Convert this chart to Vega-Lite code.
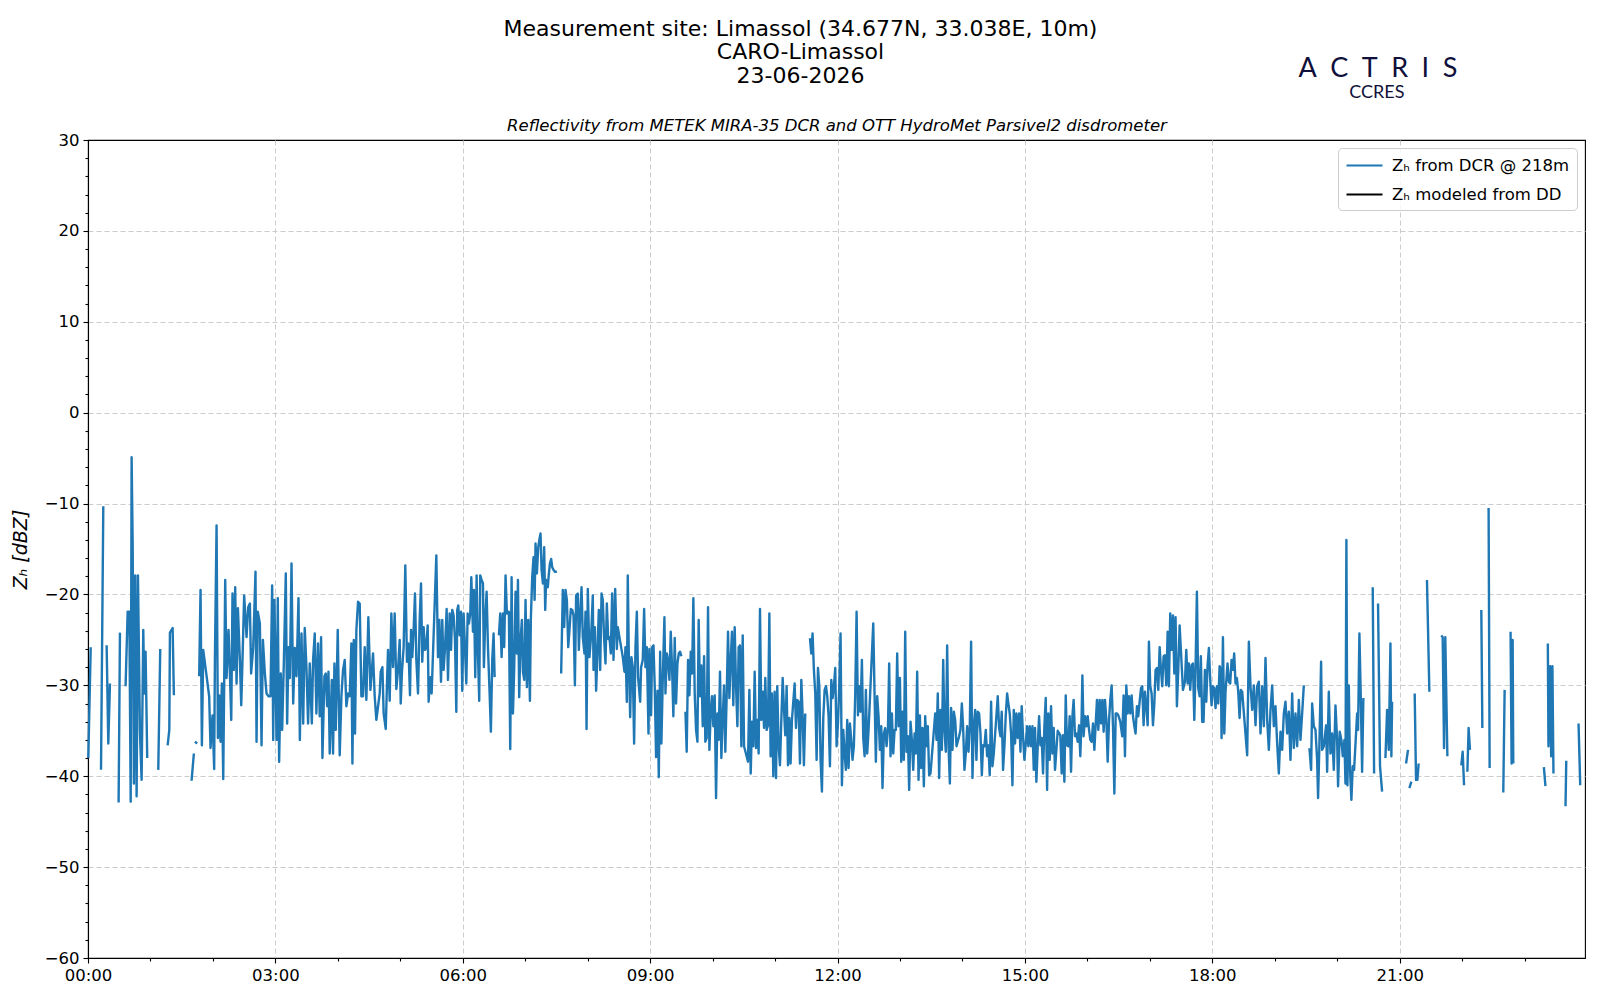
{
  "$schema": "https://vega.github.io/schema/vega-lite/v6.json",
  "description": "Radar reflectivity time series at Limassol, 23-06-2026",
  "autosize": {"type": "none"},
  "padding": {"left": 88, "top": 140, "right": 15, "bottom": 42},
  "width": 1497,
  "height": 818,
  "background": "white",
  "config": {
    "font": "DejaVu Sans",
    "view": {"stroke": "black", "strokeWidth": 1.1}
  },
  "title": {
    "text": ["Measurement site: Limassol (34.677N, 33.038E, 10m)", "CARO-Limassol", "23-06-2026"],
    "frame": "group",
    "anchor": "middle",
    "dx": -36,
    "font": "DejaVu Sans",
    "fontSize": 22,
    "fontWeight": "normal",
    "color": "black",
    "lineHeight": 23.5,
    "offset": -33
  },
  "data": {"values": [
    {"m":0.3,"z":-38.0},{"m":2.6,"z":-25.8},{"m":6,"z":null},
    {"m":12.5,"z":-39.3},{"m":14.7,"z":-10.3},{"m":16.3,"z":null},
    {"m":17.9,"z":-25.6},{"m":19.5,"z":-36.4},{"m":21.1,"z":-29.8},{"m":25,"z":null},
    {"m":29.4,"z":-42.9},{"m":30.7,"z":-24.2},{"m":33,"z":null},
    {"m":36.1,"z":-30.1},{"m":38.1,"z":-21.9},{"m":39.7,"z":-21.9},{"m":41,"z":-42.8},{"m":41.9,"z":-4.9},{"m":42.9,"z":-14.4},{"m":44.1,"z":-40.8},{"m":45.4,"z":-17.9},{"m":46.7,"z":-42.2},{"m":48,"z":-17.9},{"m":49.9,"z":-35.2},{"m":51.5,"z":-40.4},{"m":53.1,"z":-23.9},{"m":54.1,"z":-30.9},{"m":55.3,"z":-26.3},{"m":56.9,"z":-38.0},{"m":62,"z":null},
    {"m":67.5,"z":-39.3},{"m":69.4,"z":-26.0},{"m":73,"z":null},
    {"m":76.5,"z":-36.6},{"m":78.1,"z":-34.9},{"m":78.7,"z":-24.2},{"m":81.3,"z":-23.7},{"m":82.5,"z":-31.1},{"m":90,"z":null},
    {"m":99.5,"z":-40.5},{"m":101.7,"z":-37.5},{"m":102.2,"z":null},
    {"m":102.7,"z":-36.2},{"m":104.9,"z":-36.4},{"m":105.8,"z":null},
    {"m":106.8,"z":-29.0},{"m":108.1,"z":-19.5},{"m":109.4,"z":-36.6},{"m":110.7,"z":-26.1},{"m":116.4,"z":-31.2},{"m":117.7,"z":-36.9},{"m":119.6,"z":-33.3},{"m":121.2,"z":-39.2},{"m":121.9,"z":-27.2},{"m":123.5,"z":-12.4},{"m":124.8,"z":-35.8},{"m":126.0,"z":-31.1},{"m":127.3,"z":-36.2},{"m":128.6,"z":-29.8},{"m":129.9,"z":-40.3},{"m":131.8,"z":-18.4},{"m":133.1,"z":-29.2},{"m":135.0,"z":-23.9},{"m":136.3,"z":-28.7},{"m":137.6,"z":-33.8},{"m":138.8,"z":-19.9},{"m":140.1,"z":-28.3},{"m":141.4,"z":-19.2},{"m":142.7,"z":-29.8},{"m":144.0,"z":-21.5},{"m":145.9,"z":-27.2},{"m":147.2,"z":-32.2},{"m":148.4,"z":-27.2},{"m":150.0,"z":-20.1},{"m":152.3,"z":-24.7},{"m":153.9,"z":-21.4},{"m":155.5,"z":-21.0},{"m":156.7,"z":-28.7},{"m":158.7,"z":-25.8},{"m":160.9,"z":-17.5},{"m":161.9,"z":-36.2},{"m":163.1,"z":-21.9},{"m":165.1,"z":-23.2},{"m":166.7,"z":-36.6},{"m":168.0,"z":-25.0},{"m":169.9,"z":-28.7},{"m":171.5,"z":-30.9},{"m":173.4,"z":-31.2},{"m":175.3,"z":-31.2},{"m":176.9,"z":-19.0},{"m":177.9,"z":-36.0},{"m":179.1,"z":-20.6},{"m":181.1,"z":-36.0},{"m":182.3,"z":-20.4},{"m":183.6,"z":-38.4},{"m":185.2,"z":-28.7},{"m":186.5,"z":-34.9},{"m":188.1,"z":-27.6},{"m":190.0,"z":-17.7},{"m":191.3,"z":-34.2},{"m":192.6,"z":-25.8},{"m":193.9,"z":-29.2},{"m":195.5,"z":-16.6},{"m":197.1,"z":-32.0},{"m":198.7,"z":-25.9},{"m":200.3,"z":-29.0},{"m":202.2,"z":-20.4},{"m":203.5,"z":-36.0},{"m":205.1,"z":-24.3},{"m":206.7,"z":-34.2},{"m":208.2,"z":-23.7},{"m":209.8,"z":-27.9},{"m":211.4,"z":-34.2},{"m":213.0,"z":-27.6},{"m":215.0,"z":-34.2},{"m":216.2,"z":-27.2},{"m":217.8,"z":-24.3},{"m":219.4,"z":-33.1},{"m":221.0,"z":-25.4},{"m":222.6,"z":-33.4},{"m":223.9,"z":-24.7},{"m":225.2,"z":-38.0},{"m":227.1,"z":-29.0},{"m":228.4,"z":-28.7},{"m":229.7,"z":-32.3},{"m":231.0,"z":-28.5},{"m":232.2,"z":-37.5},{"m":234.2,"z":-29.4},{"m":235.4,"z":-37.5},{"m":236.7,"z":-27.6},{"m":238.0,"z":-34.9},{"m":239.9,"z":-23.9},{"m":241.8,"z":-37.7},{"m":243.4,"z":-31.2},{"m":245.0,"z":-28.3},{"m":246.6,"z":-27.2},{"m":248.2,"z":-32.3},{"m":249.8,"z":-30.9},{"m":251.4,"z":-31.2},{"m":253.0,"z":-25.4},{"m":254.0,"z":-38.6},{"m":255.3,"z":-25.0},{"m":256.5,"z":-35.3},{"m":257.8,"z":-23.9},{"m":259.4,"z":-20.8},{"m":261.0,"z":-21.0},{"m":262.6,"z":-31.2},{"m":264.2,"z":-31.2},{"m":265.8,"z":-25.8},{"m":267.4,"z":-31.6},{"m":269.3,"z":-22.5},{"m":271.3,"z":-30.5},{"m":273.8,"z":-26.5},{"m":275.4,"z":-31.2},{"m":277.0,"z":-33.8},
    {"m":280.2,"z":-30.9},{"m":281.2,"z":-28.5},{"m":282.8,"z":-28.0},{"m":284.0,"z":-33.1},{"m":286.0,"z":-34.8},{"m":287.2,"z":-29.8},{"m":288.2,"z":-26.1},{"m":289.8,"z":-31.7},{"m":291.4,"z":-22.1},{"m":293.0,"z":-28.0},{"m":294.6,"z":-22.1},{"m":296.2,"z":-30.4},{"m":297.8,"z":-28.3},{"m":299.4,"z":-25.0},{"m":300.4,"z":-32.0},{"m":301.6,"z":-28.5},{"m":303.2,"z":-25.8},{"m":304.8,"z":-16.8},{"m":306.4,"z":-27.4},{"m":307.7,"z":-25.4},{"m":309.3,"z":-31.1},{"m":310.3,"z":-23.9},{"m":311.5,"z":-26.9},{"m":312.8,"z":-23.9},{"m":314.1,"z":-19.9},{"m":315.4,"z":-27.2},{"m":317.0,"z":-30.9},{"m":318.6,"z":-22.8},{"m":319.9,"z":-18.8},{"m":321.1,"z":-27.4},{"m":322.4,"z":-23.6},{"m":323.7,"z":-26.1},{"m":325.0,"z":-25.8},{"m":326.3,"z":-23.4},{"m":327.2,"z":-31.8},{"m":328.8,"z":-29.1},{"m":330.1,"z":-30.9},{"m":334.6,"z":-15.7},{"m":336.2,"z":-26.9},{"m":337.5,"z":-22.8},{"m":339.1,"z":-29.6},{"m":340.3,"z":-22.8},{"m":341.6,"z":-28.3},{"m":342.9,"z":-26.0},{"m":344.5,"z":-21.6},{"m":345.8,"z":-29.4},{"m":347.4,"z":-22.1},{"m":348.7,"z":-26.1},{"m":349.9,"z":-21.7},{"m":351.2,"z":-22.3},{"m":352.5,"z":-24.9},{"m":353.8,"z":-32.9},{"m":354.7,"z":-21.7},{"m":355.7,"z":-21.2},{"m":357.0,"z":-24.5},{"m":358.3,"z":-21.9},{"m":359.5,"z":-30.6},{"m":360.8,"z":-22.1},{"m":361.8,"z":-24.9},{"m":363.4,"z":-29.8},{"m":364.7,"z":-22.1},{"m":365.9,"z":-23.2},{"m":367.2,"z":-22.1},{"m":368.2,"z":-18.1},{"m":369.8,"z":-24.1},{"m":370.7,"z":-19.5},{"m":372.0,"z":-29.1},{"m":373.3,"z":-17.9},{"m":374.6,"z":-26.5},{"m":375.8,"z":-31.7},{"m":376.8,"z":-17.9},{"m":378.1,"z":-18.4},{"m":379.4,"z":-18.8},{"m":380.3,"z":-28.0},{"m":381.6,"z":-22.7},{"m":382.9,"z":-19.7},{"m":384.2,"z":-25.8},{"m":385.8,"z":-30.9},{"m":387.0,"z":-35.1},{"m":388.3,"z":-27.2},{"m":389.6,"z":-24.3},{"m":390.6,"z":-29.1},{"m":392.6,"z":null},
    {"m":394.7,"z":-24.5},{"m":396.0,"z":-22.1},{"m":397.3,"z":-26.9},{"m":398.6,"z":-22.1},{"m":399.8,"z":-25.8},{"m":401.1,"z":-17.9},{"m":402.4,"z":-22.1},{"m":404.3,"z":-21.9},{"m":405.6,"z":-37.0},{"m":406.9,"z":-18.1},{"m":408.2,"z":-33.1},{"m":409.4,"z":-28.2},{"m":410.7,"z":-19.7},{"m":412.0,"z":-26.5},{"m":413.0,"z":-18.4},{"m":414.2,"z":-31.3},{"m":415.5,"z":-25.0},{"m":416.8,"z":-22.8},{"m":417.8,"z":-28.5},{"m":419.0,"z":-29.4},{"m":420.3,"z":-20.6},{"m":421.6,"z":-30.2},{"m":422.9,"z":-22.8},{"m":424.5,"z":-31.7},{"m":425.4,"z":-22.7},{"m":426.7,"z":-18.1},{"m":428.0,"z":-15.9},{"m":429.0,"z":-20.6},{"m":429.9,"z":-14.4},{"m":431.2,"z":-17.7},{"m":432.5,"z":-14.8},{"m":433.7,"z":-13.9},{"m":434.7,"z":-13.3},{"m":435.7,"z":-17.3},{"m":437.0,"z":-18.8},{"m":438.2,"z":-14.8},{"m":439.2,"z":-21.7},{"m":440.1,"z":-18.4},{"m":441.7,"z":-19.2},{"m":442.7,"z":-17.7},{"m":443.7,"z":-16.6},{"m":444.9,"z":-16.1},{"m":445.9,"z":-17.0},{"m":447.2,"z":-17.3},{"m":448.5,"z":-17.5},{"m":450.4,"z":-17.5},{"m":452.4,"z":null},
    {"m":454.5,"z":-28.7},{"m":456.1,"z":-19.5},{"m":457.4,"z":-23.6},{"m":458.7,"z":-19.5},{"m":460.0,"z":-20.6},{"m":461.3,"z":-25.8},{"m":462.5,"z":-23.9},{"m":463.8,"z":-21.6},{"m":465.1,"z":-21.7},{"m":466.4,"z":-22.3},{"m":467.7,"z":-30.0},{"m":468.9,"z":-20.1},{"m":470.5,"z":-19.9},{"m":471.5,"z":-26.1},{"m":472.8,"z":-22.3},{"m":474.1,"z":-19.2},{"m":475.3,"z":-24.7},{"m":476.9,"z":-26.5},{"m":477.9,"z":-21.9},{"m":478.9,"z":-34.8},{"m":480.1,"z":-19.4},{"m":481.7,"z":-26.9},{"m":483.3,"z":-24.5},{"m":484.9,"z":-20.1},{"m":485.6,"z":-28.3},{"m":486.9,"z":-23.6},{"m":488.1,"z":-30.6},{"m":489.4,"z":-26.3},{"m":490.7,"z":-21.7},{"m":492.0,"z":-28.3},{"m":493.3,"z":-19.9},{"m":494.5,"z":-20.6},{"m":495.8,"z":-24.9},{"m":497.1,"z":-27.6},{"m":498.4,"z":-21.0},{"m":499.7,"z":-24.9},{"m":500.9,"z":-24.7},{"m":502.2,"z":-26.5},{"m":503.5,"z":-19.9},{"m":504.8,"z":-27.2},{"m":506.4,"z":-19.4},{"m":508.0,"z":-26.0},{"m":508.9,"z":-23.6},{"m":513.7,"z":-26.9},{"m":515.3,"z":-28.5},{"m":516.3,"z":-25.8},{"m":517.6,"z":-31.8},{"m":518.5,"z":-17.9},{"m":519.5,"z":-26.5},{"m":520.8,"z":-33.5},{"m":522.0,"z":-26.9},{"m":523.3,"z":-28.0},{"m":524.6,"z":-36.4},{"m":525.9,"z":-25.8},{"m":527.2,"z":-21.9},{"m":528.4,"z":-29.1},{"m":530.4,"z":-31.8},{"m":531.3,"z":-28.0},{"m":532.9,"z":-27.2},{"m":534.2,"z":-21.6},{"m":535.5,"z":-28.0},{"m":536.8,"z":-25.8},{"m":538.4,"z":-35.3},{"m":539.3,"z":-26.0},{"m":540.9,"z":-33.3},{"m":541.9,"z":-25.8},{"m":543.2,"z":-25.6},{"m":544.4,"z":-30.2},{"m":545.7,"z":-37.9},{"m":547.0,"z":-30.6},{"m":548.3,"z":-40.1},{"m":549.6,"z":-26.3},{"m":550.8,"z":-36.4},{"m":552.1,"z":-29.4},{"m":553.7,"z":-22.5},{"m":554.7,"z":-30.9},{"m":556.0,"z":-26.5},
    {"m":557.2,"z":-27.2},{"m":558.5,"z":-29.4},{"m":559.8,"z":-24.1},{"m":561.1,"z":-28.3},{"m":562.3,"z":-33.4},{"m":563.6,"z":-24.8},{"m":564.9,"z":-32.0},{"m":566.2,"z":-27.6},{"m":567.5,"z":-26.5},{"m":568.7,"z":-26.3},{"m":570.0,"z":-26.8},{"m":572,"z":null},
    {"m":573.9,"z":-32.9},{"m":575.1,"z":-37.3},{"m":576.4,"z":-27.2},{"m":577.7,"z":-31.1},{"m":579.0,"z":-26.3},{"m":580.3,"z":-28.7},{"m":581.5,"z":-20.4},{"m":582.8,"z":-30.9},{"m":584.1,"z":-34.9},{"m":585.4,"z":-36.2},{"m":586.6,"z":-22.8},{"m":587.9,"z":-31.2},{"m":589.2,"z":-27.8},{"m":590.5,"z":-34.5},{"m":591.8,"z":-26.8},{"m":593.0,"z":-36.2},{"m":594.3,"z":-35.8},{"m":595.6,"z":-21.4},{"m":596.9,"z":-37.1},{"m":598.2,"z":-32.9},{"m":599.4,"z":-31.2},{"m":600.7,"z":-34.5},{"m":602.0,"z":-31.1},{"m":603.3,"z":-42.4},{"m":604.6,"z":-33.1},{"m":605.8,"z":-36.0},{"m":607.1,"z":-28.5},{"m":608.4,"z":-38.0},{"m":609.7,"z":-33.6},{"m":611.0,"z":-30.0},{"m":612.2,"z":-37.3},{"m":613.5,"z":-31.2},{"m":614.8,"z":-24.1},{"m":616.1,"z":-31.4},{"m":617.4,"z":-27.2},{"m":618.6,"z":-24.1},{"m":619.9,"z":-32.2},{"m":621.2,"z":-23.6},{"m":622.5,"z":-30.1},{"m":623.8,"z":-34.5},{"m":625.0,"z":-25.8},{"m":626.3,"z":-25.6},{"m":627.6,"z":-36.7},{"m":628.9,"z":-24.5},{"m":630.2,"z":-36.7},{"m":634.0,"z":-38.4},{"m":635.3,"z":-30.5},{"m":636.6,"z":-39.7},{"m":637.8,"z":-34.0},{"m":639.1,"z":-36.7},{"m":640.4,"z":-28.5},{"m":641.7,"z":-36.9},{"m":643.0,"z":-33.8},{"m":644.2,"z":-37.5},{"m":645.5,"z":-21.6},{"m":646.8,"z":-33.8},{"m":648.1,"z":-30.7},{"m":649.4,"z":-34.7},{"m":650.6,"z":-29.2},{"m":651.9,"z":-34.9},{"m":653.2,"z":-34.4},{"m":654.5,"z":-22.1},{"m":655.7,"z":-37.8},{"m":657.0,"z":-30.9},{"m":658.3,"z":-40.0},{"m":659.6,"z":-30.7},{"m":660.9,"z":-40.2},{"m":662.1,"z":-30.1},{"m":663.4,"z":-36.7},{"m":664.7,"z":-38.8},{"m":666.0,"z":-33.8},{"m":667.3,"z":-29.2},{"m":668.5,"z":-32.5},{"m":669.8,"z":-35.5},{"m":671.1,"z":-30.1},{"m":672.4,"z":-38.8},{"m":673.7,"z":-33.6},{"m":674.9,"z":-38.6},{"m":676.2,"z":-33.8},{"m":677.5,"z":-31.8},{"m":678.8,"z":-29.8},{"m":680.1,"z":-34.7},{"m":681.3,"z":-31.6},{"m":682.6,"z":-31.8},{"m":683.9,"z":-38.6},{"m":685.2,"z":-29.4},{"m":686.5,"z":-33.4},{"m":687.7,"z":-38.8},{"m":689.0,"z":-33.1},{"m":691.2,"z":null},
    {"m":693.5,"z":-24.8},{"m":694.8,"z":-26.5},{"m":696.0,"z":-24.3},{"m":697.3,"z":-28.3},{"m":698.6,"z":-30.9},{"m":699.9,"z":-38.2},{"m":701.2,"z":-28.1},{"m":702.5,"z":-30.1},{"m":703.7,"z":-38.2},{"m":705.0,"z":-41.7},{"m":706.3,"z":-33.6},{"m":707.6,"z":-30.5},{"m":708.9,"z":-30.1},{"m":710.1,"z":-31.2},{"m":711.4,"z":-33.4},{"m":712.7,"z":-38.9},{"m":714.0,"z":-29.4},{"m":715.3,"z":-31.4},{"m":716.5,"z":-30.1},{"m":717.8,"z":-28.1},{"m":719.1,"z":-36.7},{"m":720.4,"z":-34.2},{"m":721.6,"z":-30.3},{"m":722.9,"z":-24.3},{"m":724.2,"z":-41.0},{"m":725.5,"z":-34.9},{"m":726.8,"z":-37.5},{"m":728.0,"z":-39.3},{"m":729.3,"z":-33.8},{"m":730.6,"z":-39.1},{"m":731.9,"z":-34.2},{"m":733.2,"z":-36.0},{"m":734.4,"z":-38.2},{"m":735.7,"z":-36.7},{"m":737.0,"z":-30.9},{"m":738.3,"z":-21.9},{"m":739.6,"z":-33.3},{"m":740.8,"z":-30.1},{"m":742.1,"z":-32.9},{"m":743.4,"z":-27.2},{"m":744.7,"z":-35.8},{"m":746.0,"z":-37.8},{"m":747.2,"z":-30.5},{"m":748.5,"z":-37.5},{"m":749.8,"z":-34.9},{"m":754.3,"z":-23.2},{"m":755.6,"z":-31.2},{"m":756.8,"z":-38.4},{"m":758.1,"z":-31.2},{"m":759.4,"z":-33.4},{"m":760.7,"z":-37.1},{"m":762.0,"z":-34.5},{"m":763.2,"z":-41.3},{"m":764.5,"z":-35.3},{"m":765.8,"z":-34.7},{"m":767.1,"z":-36.7},{"m":768.4,"z":-34.9},{"m":769.6,"z":-27.6},{"m":770.9,"z":-37.8},{"m":772.2,"z":-33.1},{"m":773.5,"z":-37.5},{"m":774.8,"z":-34.9},{"m":776.0,"z":-34.9},{"m":777.3,"z":-26.5},{"m":778.6,"z":-34.5},{"m":779.9,"z":-29.2},{"m":781.2,"z":-38.4},{"m":782.4,"z":-32.9},{"m":783.7,"z":-38.2},{"m":785.0,"z":-24.1},{"m":786.3,"z":-37.3},{"m":787.6,"z":-35.6},{"m":788.8,"z":-41.5},{"m":790.1,"z":-34.0},{"m":791.4,"z":-36.0},{"m":792.7,"z":-39.3},{"m":794.0,"z":-35.3},{"m":795.2,"z":-37.5},{"m":796.5,"z":-28.5},{"m":797.8,"z":-40.4},{"m":799.1,"z":-33.3},{"m":800.3,"z":-39.1},{"m":801.6,"z":-34.7},{"m":802.9,"z":-41.1},{"m":804.2,"z":-33.4},{"m":805.5,"z":-36.7},{"m":806.7,"z":-34.5},{"m":808.0,"z":-39.9},{"m":809.3,"z":-39.7},{"m":813.8,"z":-33.1},{"m":815.1,"z":-36.0},{"m":816.3,"z":-30.9},{"m":817.6,"z":-40.2},{"m":818.9,"z":-32.7},{"m":820.2,"z":-37.1},{"m":821.5,"z":-27.2},{"m":822.7,"z":-34.9},{"m":824.0,"z":-37.3},{"m":825.3,"z":-25.6},{"m":826.6,"z":-36.7},{"m":827.9,"z":-40.8},{"m":829.1,"z":-32.5},{"m":830.4,"z":-37.1},{"m":831.7,"z":-32.9},{"m":833.0,"z":-33.8},{"m":834.3,"z":-36.7},
    {"m":836.8,"z":-35.6},{"m":838.1,"z":-34.9},{"m":839.4,"z":-32.0},{"m":840.6,"z":-34.5},{"m":841.9,"z":-39.3},{"m":843.2,"z":-37.5},{"m":844.5,"z":-34.5},{"m":845.8,"z":-37.3},{"m":847.0,"z":-34.7},{"m":848.3,"z":-25.2},{"m":849.6,"z":-40.2},{"m":850.9,"z":-34.5},{"m":852.2,"z":-32.7},{"m":853.4,"z":-38.2},{"m":854.7,"z":-32.9},{"m":856.0,"z":-33.1},{"m":857.3,"z":-35.3},{"m":858.6,"z":-39.9},{"m":859.8,"z":-36.6},{"m":861.1,"z":-36.7},{"m":862.4,"z":-34.9},{"m":863.7,"z":-37.8},{"m":864.9,"z":-36.6},{"m":866.2,"z":-39.9},{"m":867.5,"z":-31.8},{"m":868.8,"z":-38.9},{"m":870.1,"z":-37.5},{"m":873.9,"z":-31.2},{"m":875.2,"z":-34.7},{"m":876.5,"z":-35.6},{"m":877.7,"z":-32.9},{"m":879.0,"z":-39.3},{"m":880.3,"z":-36.7},{"m":881.6,"z":-33.3},{"m":882.9,"z":-30.9},{"m":884.1,"z":-32.0},{"m":885.4,"z":-33.1},{"m":886.7,"z":-35.3},{"m":888.0,"z":-41.0},{"m":889.3,"z":-32.7},{"m":890.5,"z":-36.4},{"m":891.8,"z":-33.1},{"m":893.1,"z":-35.8},{"m":894.4,"z":-33.1},{"m":895.7,"z":-37.3},{"m":896.9,"z":-32.3},{"m":898.2,"z":-35.6},{"m":899.5,"z":-38.2},{"m":900.8,"z":-36.4},{"m":902.1,"z":-34.5},{"m":903.3,"z":-36.7},{"m":904.6,"z":-34.5},{"m":905.9,"z":-36.7},{"m":907.2,"z":-34.5},{"m":908.5,"z":-39.3},{"m":909.7,"z":-34.7},{"m":911.0,"z":-40.6},{"m":912.3,"z":-36.7},{"m":913.6,"z":-33.4},{"m":914.9,"z":-36.6},{"m":916.1,"z":-35.8},{"m":917.4,"z":-39.7},{"m":918.7,"z":-34.5},{"m":920.0,"z":-31.4},{"m":921.3,"z":-41.5},{"m":922.5,"z":-33.1},{"m":923.8,"z":-38.2},{"m":925.1,"z":-32.3},{"m":926.4,"z":-37.5},{"m":927.6,"z":-34.7},{"m":928.9,"z":-39.3},{"m":931.5,"z":-35.0},{"m":934.0,"z":-35.5},{"m":935.3,"z":-39.7},{"m":936.6,"z":-35.5},{"m":937.9,"z":-40.6},{"m":939.2,"z":-31.1},{"m":940.4,"z":-36.6},{"m":941.7,"z":-36.7},{"m":943.0,"z":-33.4},{"m":944.3,"z":-39.5},{"m":945.6,"z":-33.4},{"m":946.8,"z":-31.6},{"m":948.1,"z":-35.6},{"m":949.4,"z":-35.3},{"m":950.7,"z":-36.2},{"m":952.0,"z":-34.4},{"m":953.2,"z":-37.8},{"m":954.5,"z":-33.3},{"m":955.2,"z":-28.9},{"m":956.4,"z":-35.6},{"m":957.7,"z":-33.4},{"m":959.0,"z":-34.5},{"m":960.3,"z":-33.4},{"m":961.6,"z":-34.9},{"m":962.8,"z":-36.0},{"m":964.1,"z":-36.2},{"m":965.4,"z":-34.2},{"m":966.7,"z":-37.1},{"m":968.0,"z":-34.2},{"m":969.2,"z":-31.6},{"m":970.5,"z":-34.9},{"m":971.8,"z":-31.6},{"m":973.1,"z":-34.2},{"m":974.4,"z":-31.6},{"m":975.6,"z":-35.1},{"m":976.9,"z":-31.6},{"m":978.2,"z":-33.8},{"m":979.5,"z":-38.4},{"m":980.8,"z":-33.8},{"m":982.0,"z":-31.6},{"m":983.3,"z":-30.0},{"m":984.6,"z":-34.5},{"m":985.9,"z":-41.9},{"m":987.2,"z":-33.1},{"m":988.4,"z":-33.1},{"m":989.7,"z":-33.3},{"m":991.6,"z":-34.0},{"m":993.5,"z":-35.6},{"m":994.8,"z":-31.1},{"m":996.1,"z":-37.8},{"m":997.4,"z":-30.0},{"m":998.7,"z":-33.1},{"m":999.9,"z":-31.2},{"m":1001.2,"z":-33.1},{"m":1002.5,"z":-31.1},{"m":1003.8,"z":-33.4},{"m":1005.1,"z":-34.5},{"m":1006.3,"z":-35.3},{"m":1007.6,"z":-32.3},{"m":1008.9,"z":-33.4},{"m":1010.2,"z":-31.8},{"m":1011.5,"z":-30.3},{"m":1012.7,"z":-30.1},{"m":1014.0,"z":-34.4},{"m":1015.3,"z":-30.7},{"m":1016.6,"z":-32.3},{"m":1017.9,"z":-34.4},{"m":1019.1,"z":-25.2},{"m":1020.4,"z":-30.1},{"m":1021.7,"z":-30.9},{"m":1023.0,"z":-34.4},{"m":1024.3,"z":-32.0},{"m":1025.5,"z":-28.3},{"m":1026.8,"z":-28.1},{"m":1028.1,"z":-30.5},{"m":1029.4,"z":-25.8},{"m":1030.7,"z":-28.3},{"m":1031.9,"z":-30.1},{"m":1033.2,"z":-26.8},{"m":1034.5,"z":-26.7},{"m":1035.8,"z":-30.0},{"m":1037.1,"z":-24.1},{"m":1038.3,"z":-30.1},{"m":1039.6,"z":-22.1},{"m":1040.9,"z":-26.1},{"m":1042.2,"z":-22.3},{"m":1043.5,"z":-28.7},{"m":1044.7,"z":-22.5},{"m":1046.0,"z":-32.3},{"m":1047.3,"z":-28.3},{"m":1048.6,"z":-23.4},{"m":1049.9,"z":-26.3},{"m":1051.8,"z":-30.5},{"m":1053.7,"z":-29.6},{"m":1055.0,"z":-26.1},{"m":1056.3,"z":-29.8},{"m":1057.5,"z":-27.6},{"m":1058.8,"z":-30.5},{"m":1060.1,"z":-27.8},{"m":1061.4,"z":-27.6},{"m":1062.7,"z":-33.8},{"m":1063.9,"z":-28.1},{"m":1065.2,"z":-19.7},{"m":1066.5,"z":-30.3},{"m":1067.8,"z":-31.2},{"m":1069.0,"z":-26.8},{"m":1070.3,"z":-34.0},{"m":1071.6,"z":-34.0},{"m":1072.9,"z":-28.3},{"m":1074.2,"z":-31.8},{"m":1075.4,"z":-27.9},{"m":1076.7,"z":-25.9},{"m":1078.0,"z":-29.4},{"m":1079.3,"z":-32.2},{"m":1080.6,"z":-30.1},{"m":1081.8,"z":-30.3},{"m":1083.1,"z":-32.5},{"m":1084.4,"z":-30.1},{"m":1085.7,"z":-32.0},{"m":1087.0,"z":-27.9},{"m":1088.2,"z":-28.3},{"m":1088.9,"z":-35.8},{"m":1090.2,"z":-24.7},{"m":1091.5,"z":-35.3},{"m":1092.7,"z":-30.7},{"m":1094.6,"z":-27.6},{"m":1095.9,"z":-29.6},{"m":1097.2,"z":-29.8},{"m":1098.5,"z":-27.2},{"m":1099.8,"z":-28.3},{"m":1101.0,"z":-26.5},{"m":1102.3,"z":-29.8},{"m":1103.6,"z":-29.2},{"m":1104.9,"z":-30.7},{"m":1106.2,"z":-33.6},{"m":1107.4,"z":-30.5},{"m":1108.7,"z":-30.7},
    {"m":1113.5,"z":-37.7},{"m":1115.1,"z":-25.2},{"m":1116.7,"z":-30.1},{"m":1118.3,"z":-32.7},{"m":1119.9,"z":-30.0},{"m":1121.5,"z":-34.4},{"m":1123.1,"z":-30.1},{"m":1124.7,"z":-29.6},{"m":1126.3,"z":-35.3},{"m":1127.9,"z":-30.1},{"m":1129.5,"z":-34.5},{"m":1131.1,"z":-27.0},{"m":1132.7,"z":-33.8},{"m":1134.3,"z":-37.1},{"m":1135.9,"z":-32.7},{"m":1137.5,"z":-30.0},{"m":1139.1,"z":-34.5},{"m":1140.7,"z":-32.3},{"m":1142.3,"z":-36.4},{"m":1143.9,"z":-39.7},{"m":1145.5,"z":-35.1},{"m":1147.1,"z":-37.1},{"m":1148.7,"z":-33.1},{"m":1150.3,"z":-31.8},{"m":1151.9,"z":-35.3},{"m":1153.5,"z":-32.9},{"m":1155.1,"z":-38.2},{"m":1156.7,"z":-30.9},{"m":1158.3,"z":-36.9},{"m":1159.9,"z":-33.1},{"m":1161.5,"z":-36.7},{"m":1163.1,"z":-31.6},{"m":1164.7,"z":-36.0},{"m":1166.3,"z":-33.1},{"m":1167.9,"z":-30.0},{"m":1170.5,"z":null},
    {"m":1173.3,"z":-36.9},{"m":1174.9,"z":-39.3},{"m":1175.9,"z":-32.0},{"m":1177.5,"z":-34.5},{"m":1179.1,"z":-34.9},{"m":1180.7,"z":-38.2},{"m":1181.6,"z":-42.4},{"m":1182.9,"z":-36.4},{"m":1184.5,"z":-27.4},{"m":1185.5,"z":-37.1},{"m":1187.1,"z":-36.7},{"m":1189.3,"z":-34.4},{"m":1190.3,"z":-39.5},{"m":1191.9,"z":-30.7},{"m":1193.5,"z":-37.5},{"m":1195.1,"z":-35.3},{"m":1196.7,"z":-39.3},{"m":1198.3,"z":-32.2},{"m":1199.9,"z":-36.0},{"m":1200.8,"z":-41.1},{"m":1202.4,"z":-35.1},{"m":1204.0,"z":-36.0},{"m":1205.3,"z":-37.8},{"m":1206.9,"z":-36.0},{"m":1207.9,"z":-40.8},{"m":1208.8,"z":-14.0},{"m":1209.8,"z":-41.0},{"m":1211.1,"z":-30.0},{"m":1212.3,"z":-39.3},{"m":1213.6,"z":-42.6},{"m":1214.9,"z":-38.9},{"m":1216.2,"z":-39.3},{"m":1219.1,"z":-33.1},{"m":1220.0,"z":-34.9},{"m":1221.3,"z":-24.3},{"m":1222.6,"z":-31.2},{"m":1223.9,"z":-39.5},{"m":1225.1,"z":-31.4},{"m":1229,"z":null},
    {"m":1234.1,"z":-19.2},{"m":1235.4,"z":-39.7},{"m":1237,"z":null},
    {"m":1239.2,"z":-21.0},{"m":1241.1,"z":-38.9},{"m":1243.1,"z":-41.7},{"m":1244.5,"z":null},
    {"m":1246.3,"z":-38.0},{"m":1247.9,"z":-32.7},{"m":1249.5,"z":-37.1},{"m":1251.1,"z":-25.4},{"m":1252.0,"z":-37.8},{"m":1252.7,"z":-31.8},{"m":1258,"z":null},
    {"m":1266.1,"z":-38.6},{"m":1268.0,"z":-37.1},{"m":1268.7,"z":null},
    {"m":1269.3,"z":-41.3},{"m":1271.2,"z":-40.6},{"m":1272.5,"z":null},
    {"m":1274.4,"z":-30.9},{"m":1275.7,"z":-40.4},{"m":1277.0,"z":-40.4},{"m":1278.2,"z":-38.6},{"m":1282,"z":null},
    {"m":1286.2,"z":-18.4},{"m":1288.5,"z":-30.7},{"m":1294,"z":null},
    {"m":1300.0,"z":-24.5},{"m":1301.3,"z":-24.7},{"m":1302.6,"z":-36.9},{"m":1303.8,"z":-24.7},{"m":1305.8,"z":-37.8},{"m":1312,"z":null},
    {"m":1319.2,"z":-38.8},{"m":1320.5,"z":-37.3},{"m":1321.8,"z":-41.0},{"m":1323.5,"z":null},
    {"m":1325.0,"z":-39.5},{"m":1326.2,"z":-34.7},{"m":1327.5,"z":-37.1},{"m":1333,"z":null},
    {"m":1338.4,"z":-21.7},{"m":1339.4,"z":-34.7},{"m":1342,"z":null},
    {"m":1345.4,"z":-10.5},{"m":1346.4,"z":-39.1},{"m":1353,"z":null},
    {"m":1359.5,"z":-41.8},{"m":1360.8,"z":-30.5},{"m":1363,"z":null},
    {"m":1366.5,"z":-24.1},{"m":1367.5,"z":-38.6},{"m":1368.5,"z":-25.0},{"m":1369.1,"z":-38.6},{"m":1384,"z":null},
    {"m":1398.5,"z":-39.0},{"m":1400.0,"z":-41.1},{"m":1401.2,"z":null},
    {"m":1402.3,"z":-25.4},{"m":1402.9,"z":-36.7},{"m":1404.5,"z":-27.9},{"m":1405.5,"z":-37.8},{"m":1406.7,"z":-27.9},{"m":1407.7,"z":-39.7},{"m":1414,"z":null},
    {"m":1419.3,"z":-43.3},{"m":1420.0,"z":-38.3},{"m":1426,"z":null},
    {"m":1431.8,"z":-34.2},{"m":1433.4,"z":-41.0}
  ]},
  "layer": [
    {
      "mark": {"type": "line", "strokeWidth": 2.4, "strokeJoin": "round", "invalid": "break-paths-show-domains"},
      "encoding": {
        "x": {
          "field": "m",
          "type": "quantitative",
          "scale": {"domain": [0, 1438], "nice": false, "zero": false},
          "axis": {
            "title": null,
            "values": [0, 60, 120, 180, 240, 300, 360, 420, 480, 540, 600, 660, 720, 780, 840, 900, 960, 1020, 1080, 1140, 1200, 1260, 1320, 1380],
            "labelExpr": "datum.value % 180 === 0 ? (datum.value < 600 ? '0' : '') + (datum.value / 60) + ':00' : ''",
            "labelFont": "DejaVu Sans",
            "labelFontSize": 16.5,
            "labelColor": "black",
            "labelPadding": 4,
            "labelFlush": false,
            "labelOverlap": false,
            "tickColor": "black",
            "tickWidth": 1.1,
            "tickSize": {"condition": {"test": "datum.value % 180 === 0", "value": 5}, "value": 3},
            "domainColor": "black",
            "domainWidth": 1.1,
            "grid": true,
            "gridColor": "#cccccc",
            "gridDash": [5, 3],
            "gridWidth": 1,
            "gridOpacity": {"condition": {"test": "datum.value % 180 === 0 && datum.value > 0", "value": 1}, "value": 0}
          }
        },
        "y": {
          "field": "z",
          "type": "quantitative",
          "scale": {"domain": [-60, 30], "nice": false, "zero": false},
          "axis": {
            "title": "Zₕ [dBZ]",
            "titleFont": "DejaVu Sans",
            "titleFontSize": 19,
            "titleFontWeight": "normal",
            "titleFontStyle": "italic",
            "titleColor": "black",
            "titlePadding": 14,
            "values": [-60, -58, -56, -54, -52, -50, -48, -46, -44, -42, -40, -38, -36, -34, -32, -30, -28, -26, -24, -22, -20, -18, -16, -14, -12, -10, -8, -6, -4, -2, 0, 2, 4, 6, 8, 10, 12, 14, 16, 18, 20, 22, 24, 26, 28, 30],
            "labelExpr": "datum.value % 10 === 0 ? datum.label : ''",
            "labelFont": "DejaVu Sans",
            "labelFontSize": 16.5,
            "labelColor": "black",
            "labelPadding": 4,
            "labelOverlap": false,
            "tickColor": "black",
            "tickWidth": 1.1,
            "tickSize": {"condition": {"test": "datum.value % 10 === 0", "value": 5}, "value": 3},
            "domainColor": "black",
            "domainWidth": 1.1,
            "grid": true,
            "gridColor": "#cccccc",
            "gridDash": [5, 3],
            "gridWidth": 1,
            "gridOpacity": {"condition": {"test": "datum.value % 10 === 0 && datum.value > -60 && datum.value < 30", "value": 1}, "value": 0}
          }
        },
        "color": {
          "datum": "Zₕ from DCR @ 218m",
          "type": "nominal",
          "scale": {"domain": ["Zₕ from DCR @ 218m", "Zₕ modeled from DD"], "range": ["#1f77b4", "#000000"]},
          "legend": {
            "title": null,
            "orient": "top-right",
            "offset": 8,
            "labelFont": "DejaVu Sans",
            "labelFontSize": 16.5,
            "labelColor": "black",
            "labelLimit": 400,
            "labelOffset": 26,
            "symbolType": "M-1,0H3",
            "symbolStrokeWidth": 2.1,
            "symbolSize": 324,
            "rowPadding": 10,
            "padding": 7,
            "strokeColor": "#cccccc",
            "fillColor": "rgba(255,255,255,0.8)",
            "cornerRadius": 4
          }
        }
      }
    },
    {
      "transform": [{"filter": "false"}],
      "mark": "rule",
      "encoding": {
        "x": {
          "field": "m",
          "type": "quantitative",
          "axis": {
            "orient": "top",
            "title": "Reflectivity from METEK MIRA-35 DCR and OTT HydroMet Parsivel2 disdrometer",
            "titleFont": "DejaVu Sans",
            "titleFontSize": 16.5,
            "titleFontStyle": "italic",
            "titleFontWeight": "normal",
            "titleColor": "black",
            "titlePadding": 7,
            "labels": false,
            "ticks": false,
            "domain": false,
            "grid": false
          }
        }
      }
    },
    {
      "data": {"values": [{"label": "A\u2002C\u2002T\u2002R\u2002I\u2002S"}]},
      "mark": {"type": "text", "font": "Lato", "fontSize": 27, "color": "#10103a", "align": "center", "baseline": "middle"},
      "encoding": {
        "text": {"field": "label"},
        "x": {"datum": 1239, "type": "quantitative", "axis": null},
        "y": {"datum": 37.85, "type": "quantitative", "axis": null}
      }
    },
    {
      "data": {"values": [{"label": "CCRES"}]},
      "mark": {"type": "text", "font": "Lato", "fontSize": 18, "color": "#10103a", "align": "center", "baseline": "middle"},
      "encoding": {
        "text": {"field": "label"},
        "x": {"datum": 1238, "type": "quantitative", "axis": null},
        "y": {"datum": 35.2, "type": "quantitative", "axis": null}
      }
    }
  ],
  "resolve": {"axis": {"x": "independent", "y": "independent"}}
}
